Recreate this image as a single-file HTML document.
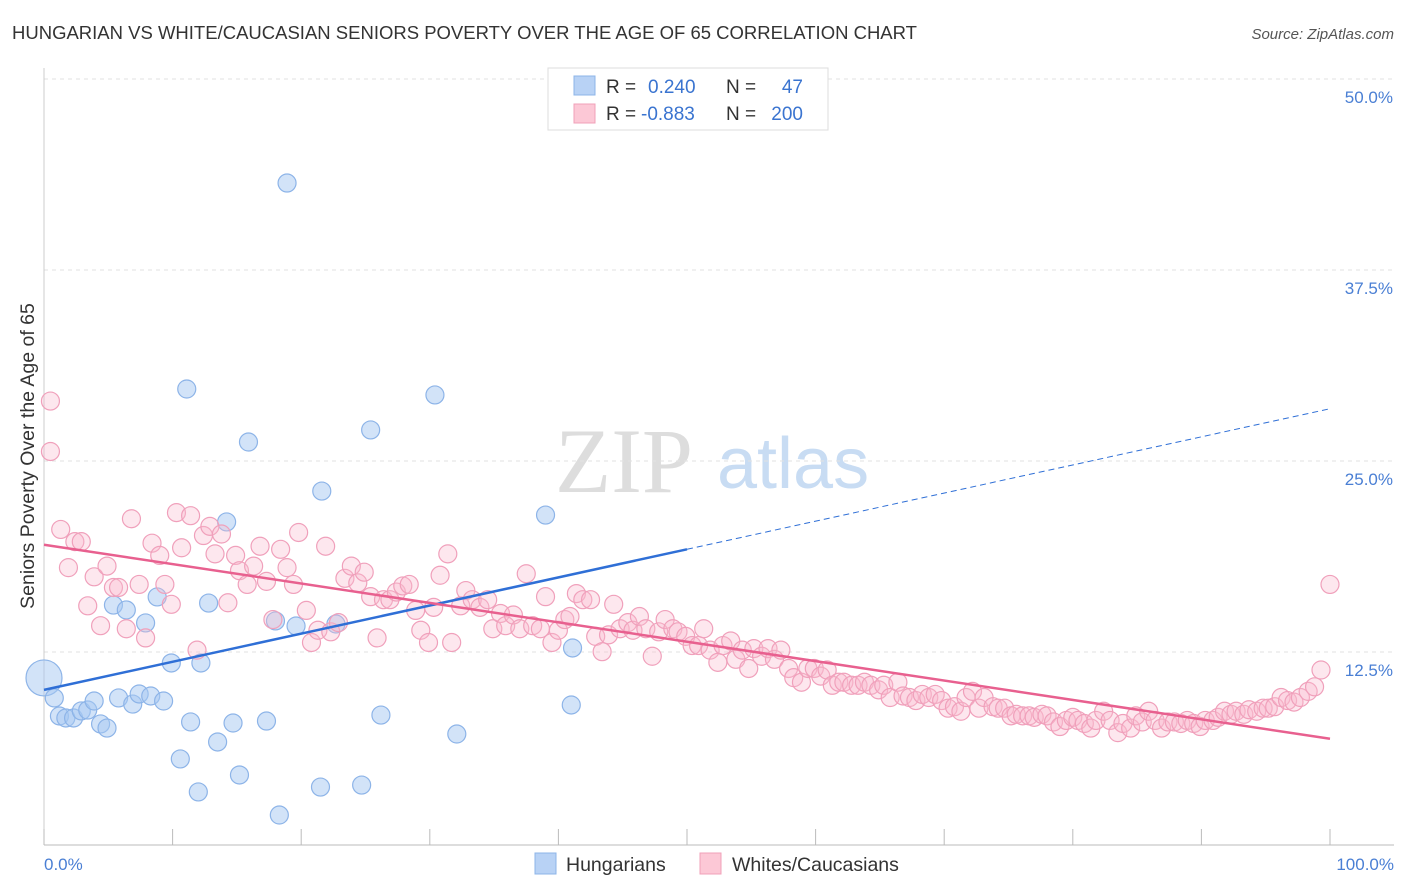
<!DOCTYPE html>
<html><head><meta charset="utf-8"><style>
body{margin:0;background:#fff;font-family:"Liberation Sans",sans-serif}
svg{display:block}
</style></head><body>
<svg id="chart" width="1406" height="892" xmlns="http://www.w3.org/2000/svg">
<text x="12" y="39" font-size="18.5" fill="#333">HUNGARIAN VS WHITE/CAUCASIAN SENIORS POVERTY OVER THE AGE OF 65 CORRELATION CHART</text>
<text x="1394" y="39" font-size="15" fill="#555" font-style="italic" text-anchor="end">Source: ZipAtlas.com</text>
<g>
<text x="555" y="492" font-family="Liberation Serif" font-size="92" fill="#ddd">ZIP</text>
<text x="717" y="488" font-size="72" fill="#c8dcf3">atlas</text>
</g>
<g id="grid"></g>
<g id="ticks"></g>
<text transform="translate(34,456) rotate(-90)" font-size="19.5" fill="#333" text-anchor="middle">Seniors Poverty Over the Age of 65</text>
<text x="44" y="870" font-size="17" fill="#4a7fd4">0.0%</text>
<text x="1394" y="870" font-size="17" fill="#4a7fd4" text-anchor="end">100.0%</text>
<g id="blue"></g>
<g id="pink"></g>
<g id="lines"></g>
<g>
<rect x="548" y="68" width="280" height="62" fill="#fff" stroke="#ddd"/>
<rect x="574" y="76" width="21" height="19" fill="#b8d2f5" stroke="#8db4e8"/>
<rect x="574" y="104" width="21" height="19" fill="#fcc8d6" stroke="#f0a0b8"/>
<text x="606" y="93" font-size="19" fill="#333">R = </text><text x="648" y="93" font-size="19" fill="#3a74d0">0.240</text>
<text x="726" y="93" font-size="19" fill="#333">N = </text><text x="803" y="93" font-size="19" fill="#3a74d0" text-anchor="end">47</text>
<text x="606" y="120" font-size="19" fill="#333">R = </text><text x="641" y="120" font-size="19" fill="#3a74d0">-0.883</text>
<text x="726" y="120" font-size="19" fill="#333">N = </text><text x="803" y="120" font-size="19" fill="#3a74d0" text-anchor="end">200</text>
</g>
<g>
<rect x="535" y="853" width="21" height="21" fill="#b8d2f5" stroke="#8db4e8"/>
<text x="566" y="871" font-size="19.5" fill="#333">Hungarians</text>
<rect x="700" y="853" width="21" height="21" fill="#fcc8d6" stroke="#f0a0b8"/>
<text x="732" y="871" font-size="19.5" fill="#333">Whites/Caucasians</text>
</g>
</svg>
<script>
const yTicks=[12.5,25,37.5,50];
const yTickLabels=["12.5%","25.0%","37.5%","50.0%"];
const xTicks=[0,10,20,30,40,50,60,70,80,90,100];
const blueX=[0,0.8,1.2,1.7,2.3,2.9,3.4,3.9,4.4,4.9,5.4,5.8,6.4,6.9,7.4,7.9,8.3,8.8,9.3,9.9,10.6,11.1,11.4,12.0,12.2,12.8,13.5,14.2,14.7,15.2,15.9,17.3,18.0,18.9,18.3,19.6,21.5,21.6,22.7,24.7,25.4,26.2,30.4,32.1,39.0,41.1,41.0];
const blueY=[11.98,10.67,9.49,9.36,9.36,9.82,9.88,10.47,8.97,8.70,16.75,10.67,16.43,10.27,10.93,15.58,10.80,17.28,10.47,12.96,6.68,30.89,9.10,4.52,12.96,16.88,7.79,22.19,9.03,5.63,27.42,9.16,15.71,44.37,3.01,15.38,4.84,24.21,15.51,4.97,28.21,9.55,30.50,8.31,22.64,13.94,10.21];
const pinkX=[0.5,0.5,1.3,1.9,2.4,2.9,3.4,3.9,4.4,4.9,5.4,5.8,6.4,6.8,7.4,7.9,8.4,9.0,9.4,9.9,10.3,10.7,11.4,11.9,12.4,12.9,13.3,13.8,14.3,14.9,15.2,15.8,16.3,16.8,17.3,17.8,18.4,18.9,19.4,19.8,20.4,20.8,21.3,21.9,22.3,22.9,23.4,23.9,24.4,24.9,25.4,25.9,26.4,26.9,27.4,27.9,28.4,28.9,29.3,29.9,30.3,30.8,31.4,31.7,32.4,32.8,33.3,33.9,34.5,34.9,35.5,35.9,36.5,37.0,37.5,38.0,38.6,39.0,39.5,40.0,40.5,40.9,41.4,41.9,42.5,42.9,43.4,43.9,44.3,44.8,45.4,45.8,46.3,46.8,47.3,47.8,48.3,48.9,49.3,49.9,50.4,50.9,51.3,51.8,52.4,52.8,53.4,53.8,54.3,54.8,55.2,55.8,56.3,56.8,57.3,57.9,58.3,58.9,59.4,59.9,60.4,60.9,61.3,61.8,62.2,62.8,63.3,63.8,64.3,64.9,65.3,65.8,66.4,66.8,67.3,67.8,68.3,68.8,69.3,69.8,70.3,70.8,71.3,71.7,72.2,72.7,73.1,73.8,74.2,74.7,75.2,75.6,76.1,76.6,77.0,77.6,78.0,78.5,79.0,79.5,80.0,80.4,80.9,81.4,81.8,82.4,82.9,83.5,83.9,84.5,84.9,85.4,85.9,86.4,86.9,87.4,87.9,88.4,88.9,89.4,89.9,90.3,90.9,91.3,91.8,92.3,92.7,93.3,93.7,94.3,94.8,95.2,95.7,96.2,96.7,97.2,97.7,98.3,98.8,99.3,100];
const pinkY=[26.8,30.1,21.7,19.2,20.9,20.9,16.7,18.6,15.4,19.3,17.9,17.9,15.2,22.4,18.1,14.6,20.8,20.0,18.1,16.8,22.8,20.5,22.6,13.8,21.3,21.9,20.1,21.4,16.9,20.0,19.0,18.1,19.3,20.6,18.3,15.8,20.4,19.2,18.1,21.5,16.4,14.3,15.1,20.6,15.0,15.6,18.5,19.3,18.2,18.9,17.3,14.6,17.1,17.1,17.6,18.0,18.1,16.4,15.1,14.3,16.6,18.7,20.1,14.3,16.7,17.7,17.1,16.6,17.1,15.2,16.2,15.4,16.1,15.2,18.8,15.4,15.2,17.3,14.3,15.1,15.8,16.0,17.5,17.1,17.1,14.7,13.7,14.8,16.8,15.2,15.6,15.1,16.0,15.2,13.4,15.0,15.8,15.2,15.0,14.7,14.1,14.1,15.2,13.8,13.0,14.1,14.4,13.2,13.8,12.6,13.9,13.4,13.9,13.2,13.8,12.6,12.0,11.7,12.6,12.6,12.1,12.5,11.5,11.7,11.7,11.5,11.5,11.7,11.5,11.2,11.5,10.7,11.7,10.8,10.7,10.5,10.9,10.7,10.9,10.5,10.0,10.1,9.8,10.7,11.1,10.0,10.7,10.1,10.0,10.0,9.5,9.6,9.5,9.5,9.4,9.6,9.5,9.1,8.8,9.2,9.4,9.2,9.0,8.7,9.2,9.8,9.2,8.4,9.0,8.7,9.5,9.1,9.8,9.2,8.7,9.1,9.1,9.0,9.2,9.0,8.8,9.2,9.2,9.4,9.8,9.6,9.8,9.6,9.9,9.8,10.0,10.0,10.1,10.7,10.5,10.4,10.7,11.1,11.4,12.5,18.1];
const blueFit=[11.2,20.4,29.6];
const pinkFit=[20.7,8.0];
const NS='http://www.w3.org/2000/svg';
const X0=44,X1=1330;
function x(v){return X0+(X1-X0)*v/100;}
function y(v){return 861-v*15.28;}
function mk(tag,attrs,parent){const e=document.createElementNS(NS,tag);for(const k in attrs)e.setAttribute(k,attrs[k]);document.getElementById(parent).appendChild(e);return e;}
yTicks.forEach((t,i)=>{
  const l=mk('line',{x1:44,x2:1394,y1:y(t)-18,y2:y(t)-18,stroke:'#e2e2e2','stroke-dasharray':'4 4'},'grid');
  
  
  const tx=mk('text',{x:1393,y:y(t)+6,'font-size':17,fill:'#4a7fd4','text-anchor':'end'},'grid');
  tx.textContent=yTickLabels[i];
  
  
});
const ax=mk('line',{x1:44,x2:44,y1:68,y2:845,stroke:'#ccc'},'ticks');


const bx=mk('line',{x1:44,x2:1394,y1:845,y2:845,stroke:'#bbb'},'ticks');


xTicks.forEach(t=>{
  const l=mk('line',{x1:x(t),x2:x(t),y1:829,y2:845,stroke:'#bbb'},'ticks');
  
  
});
blueX.forEach((v,i)=>{
  const c=mk('circle',{cx:x(v),cy:y(blueY[i]),r:i===0?18:9,fill:'rgba(165,200,242,0.5)',stroke:'#8db4e8','stroke-width':1.2},'blue');
  
  
});
pinkX.forEach((v,i)=>{
  const c=mk('circle',{cx:x(v),cy:y(pinkY[i]),r:9,fill:'rgba(250,185,205,0.35)',stroke:'#f0a0bb','stroke-width':1.2},'pink');
  
  
});
const b1=mk('line',{x1:x(0),y1:y(blueFit[0]),x2:x(50),y2:y(blueFit[1]),stroke:'#2f6fd6','stroke-width':2.5},'lines');


const b2=mk('line',{x1:x(50),y1:y(blueFit[1]),x2:x(100),y2:y(blueFit[2]),stroke:'#2f6fd6','stroke-width':1,'stroke-dasharray':'6 4'},'lines');


const p1=mk('line',{x1:x(0),y1:y(pinkFit[0]),x2:x(100),y2:y(pinkFit[1]),stroke:'#e8608f','stroke-width':2.5},'lines');


</script>
</body></html>
